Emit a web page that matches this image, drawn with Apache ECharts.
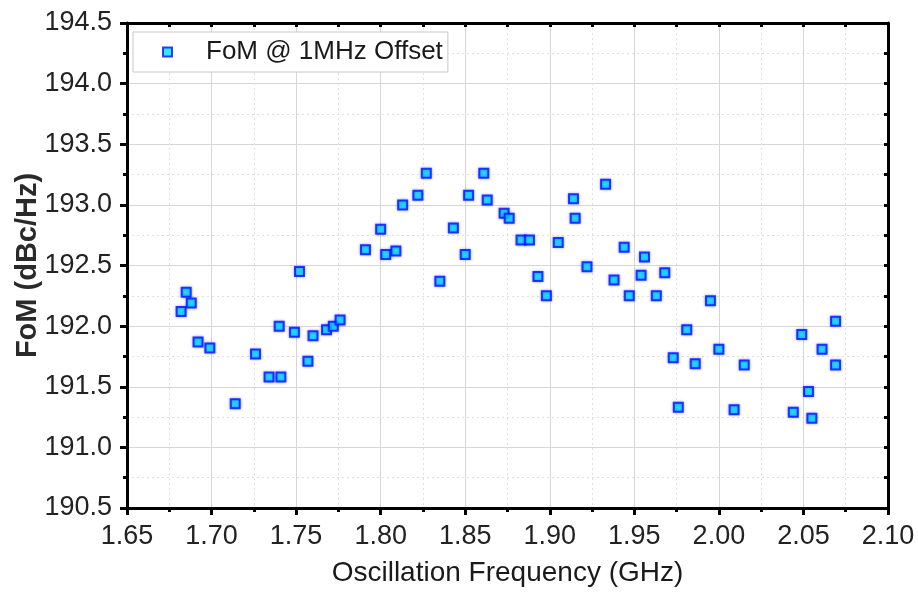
<!DOCTYPE html>
<html>
<head>
<meta charset="utf-8">
<script src="https://cdn.jsdelivr.net/npm/echarts@6/dist/echarts.min.js"></script>
<style>
  html, body { margin: 0; padding: 0; background: #fff; }
  #chart { width: 918px; height: 592px; }
</style>
</head>
<body>
<div id="chart"></div>
<script>
// oscillation frequency (GHz) and FoM @ 1MHz offset (dBc/Hz)
const freqGHz = [
  1.682, 1.685, 1.688, 1.692, 1.699, 1.714, 1.726, 1.734, 1.741, 1.740,
  1.749, 1.752, 1.757, 1.760, 1.768, 1.772, 1.776, 1.791, 1.800, 1.803,
  1.809, 1.813, 1.822, 1.827, 1.835, 1.843, 1.850, 1.852, 1.861, 1.863,
  1.873, 1.876, 1.883, 1.888, 1.893, 1.898, 1.905, 1.914, 1.915, 1.922,
  1.933, 1.938, 1.944, 1.947, 1.954, 1.956, 1.963, 1.968, 1.973, 1.976,
  1.981, 1.986, 1.995, 2.000, 2.009, 2.015, 2.044, 2.049, 2.053, 2.055,
  2.061, 2.069, 2.069
]
const fomDbc = [
  192.12, 192.28, 192.19, 191.87, 191.82, 191.36, 191.77, 191.58, 191.58, 192.00,
  191.95, 192.45, 191.71, 191.92, 191.97, 192.00, 192.05, 192.63, 192.80, 192.59,
  192.62, 193.00, 193.08, 193.26, 192.37, 192.81, 192.59, 193.08, 193.26, 193.04,
  192.93, 192.89, 192.71, 192.71, 192.41, 192.25, 192.69, 193.05, 192.89, 192.49,
  193.17, 192.38, 192.65, 192.25, 192.42, 192.57, 192.25, 192.44, 191.74, 191.33,
  191.97, 191.69, 192.21, 191.81, 191.31, 191.68, 191.29, 191.93, 191.46, 191.24,
  191.81, 192.04, 191.68
]
const seriesName = 'FoM @ 1MHz Offset'

const xMin = 1.65, xMax = 2.10, xStep = 0.05
const yMin = 190.5, yMax = 194.5, yStep = 0.5

const fontFamily = '"Liberation Sans", Arial, sans-serif'

const chart = echarts.init(document.getElementById('chart'), null, { renderer: 'canvas' })

const gridLine = { show: true, lineStyle: { color: '#d6d6d6', width: 1 } }
const minorGrid = { show: true, lineStyle: { color: '#e0e0e0', width: 1, type: [2, 3] } }
const frame = { show: true, onZero: false, lineStyle: { color: '#000', width: 3 } }
const tickStyle = { color: '#000', width: 3 }

chart.setOption({
  animation: false,
  backgroundColor: '#fff',
  // fixed plot box, don't let v6 shrink it to fit the labels
  grid: { left: 127, right: 30, top: 23, bottom: 84, outerBoundsMode: 'none' },
  legend: {
    data: [seriesName],
    left: 133,
    top: 32,
    backgroundColor: '#fff',
    borderColor: '#c8c8c8',
    borderWidth: 1,
    padding: [7, 5, 7, 29],
    itemWidth: 9,
    itemHeight: 9,
    textStyle: {
      fontFamily,
      fontSize: 26,
      color: '#1a1a1a',
      padding: [0, 0, 0, 29]
    }
  },
  xAxis: [
    {
      type: 'value',
      min: xMin,
      max: xMax,
      interval: xStep,
      name: 'Oscillation Frequency (GHz)',
      nameLocation: 'middle',
      nameGap: 51,
      nameMoveOverlap: false,
      nameTextStyle: { fontFamily, fontSize: 28, color: '#1a1a1a' },
      axisLine: frame,
      axisTick: { show: true, inside: false, length: 7, lineStyle: tickStyle },
      minorTick: { show: true, splitNumber: 2, length: 4, lineStyle: tickStyle },
      axisLabel: {
        fontFamily, fontSize: 27, color: '#222', margin: 15,
        formatter: (v) => v.toFixed(2)
      },
      splitLine: gridLine,
      minorSplitLine: minorGrid
    },
    {
      type: 'value',
      position: 'top',
      min: xMin,
      max: xMax,
      interval: xStep,
      axisLine: frame,
      axisTick: { show: true, inside: true, length: 4, lineStyle: tickStyle },
      minorTick: { show: true, splitNumber: 2, length: 4, lineStyle: tickStyle },
      axisLabel: { show: false },
      splitLine: { show: false }
    }
  ],
  yAxis: [
    {
      type: 'value',
      min: yMin,
      max: yMax,
      interval: yStep,
      name: 'FoM (dBc/Hz)',
      nameLocation: 'middle',
      nameGap: 85,
      nameMoveOverlap: false,
      nameTextStyle: { fontFamily, fontSize: 29, fontWeight: 'bold', color: '#2a2a2a' },
      axisLine: frame,
      axisTick: { show: true, inside: false, length: 7, lineStyle: tickStyle },
      minorTick: { show: true, splitNumber: 2, length: 4, lineStyle: tickStyle },
      axisLabel: {
        fontFamily, fontSize: 27, color: '#222', margin: 15,
        formatter: (v) => v.toFixed(1)
      },
      splitLine: gridLine,
      minorSplitLine: minorGrid
    },
    {
      type: 'value',
      position: 'right',
      min: yMin,
      max: yMax,
      interval: yStep,
      axisLine: frame,
      axisTick: { show: true, inside: true, length: 4, lineStyle: tickStyle },
      minorTick: { show: true, splitNumber: 2, length: 4, lineStyle: tickStyle },
      axisLabel: { show: false },
      splitLine: { show: false }
    }
  ],
  series: [
    {
      name: seriesName,
      type: 'scatter',
      symbol: 'rect',
      symbolSize: 9,
      itemStyle: {
        color: '#00e4ff',
        borderColor: '#0010ff',
        borderWidth: 2,
        shadowBlur: 3,
        shadowColor: 'rgba(0, 0, 255, 0.45)'
      },
      data: freqGHz.map((f, i) => [f, fomDbc[i]])
    }
  ]
})
</script>
</body>
</html>
